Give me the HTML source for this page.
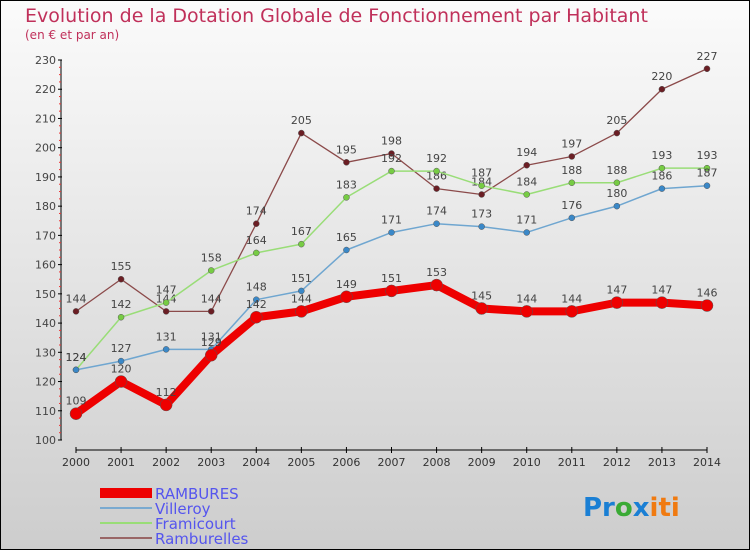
<!DOCTYPE html>
<html><head><meta charset="utf-8"><style>
body{margin:0}
#c{width:750px;height:550px;position:relative;overflow:hidden}
svg{display:block}
text{font-family:"DejaVu Sans","Liberation Sans",sans-serif}
</style></head><body>
<div id="c">
<svg id="s" width="750" height="550" xmlns="http://www.w3.org/2000/svg">
<defs><linearGradient id="bg" x1="0" y1="0" x2="0" y2="1"><stop offset="0" stop-color="#fbfbfb"/><stop offset="1" stop-color="#cdcdcd"/></linearGradient></defs>
<rect x="0.5" y="0.5" width="749" height="549" fill="url(#bg)" stroke="#000"/>
<text x="25" y="22" font-size="19" fill="#c0305a">Evolution de la Dotation Globale de Fonctionnement par Habitant</text>
<text x="25" y="39" font-size="12" fill="#c0305a">(en € et par an)</text>
<g id="axes"></g><g id="series"></g>
<g>
<rect x="100" y="488" width="52" height="10" fill="#e00"/>
<text x="155" y="499" font-size="15" fill="#5555ee">RAMBURES</text>
<line x1="100" y1="508" x2="152" y2="508" stroke="#7aaad0" stroke-width="2"/>
<text x="155" y="514" font-size="15" fill="#5555ee">Villeroy</text>
<line x1="100" y1="523" x2="152" y2="523" stroke="#99dd77" stroke-width="2"/>
<text x="155" y="529" font-size="15" fill="#5555ee">Framicourt</text>
<line x1="100" y1="538" x2="152" y2="538" stroke="#996666" stroke-width="2"/>
<text x="155" y="544" font-size="15" fill="#5555ee">Ramburelles</text>
</g>
<text x="583" y="516" font-size="26" font-weight="bold"><tspan fill="#1a7fd4">Pr</tspan><tspan fill="#3aaa35">o</tspan><tspan fill="#1a7fd4">x</tspan><tspan fill="#f07a10">iti</tspan></text>
</svg></div>
<script>
const years=[2000,2001,2002,2003,2004,2005,2006,2007,2008,2009,2010,2011,2012,2013,2014];
const yTicks=[100,110,120,130,140,150,160,170,180,190,200,210,220,230];
const rambures=[109,120,112,129,142,144,149,151,153,145,144,144,147,147,146];
const villeroy=[124,127,131,131,148,151,165,171,174,173,171,176,180,186,187];
const framicourt=[124,142,147,158,164,167,183,192,192,187,184,188,188,193,193];
const ramburelles=[144,155,144,144,174,205,195,198,186,184,194,197,205,220,227];
const NS="http://www.w3.org/2000/svg";
const X=i=>76+i*(707-76)/(years.length-1);
const Y=v=>440-(v-100)*380/130;
function mk(t,a,p){const e=document.createElementNS(NS,t);for(const k in a)e.setAttribute(k,a[k]);p.appendChild(e);return e;}
const ax=document.getElementById('axes');
let e=mk('line',{x1:61,y1:60,x2:61,y2:440,stroke:'#000'},ax);


e=mk('line',{x1:76,y1:450,x2:707,y2:450,stroke:'#000'},ax);


yTicks.forEach((v,i)=>{const y=Y(v);
 mk('line',{x1:58,y1:y,x2:62,y2:y,stroke:'#000'},ax);
 const t=mk('text',{x:56,y:y+4,'font-size':11,fill:'#444','text-anchor':'end'},ax);t.textContent=v;
 
 
 if(i<yTicks.length-1){for(let k=1;k<4;k++){const yy=Y(v+k*2.5);mk('line',{x1:59,y1:yy,x2:61,y2:yy,stroke:'#e33'},ax);}}
});
years.forEach((yr,i)=>{const x=X(i);
 mk('line',{x1:x,y1:447,x2:x,y2:453,stroke:'#000'},ax);
 const t=mk('text',{x:x,y:466,'font-size':11,fill:'#333','text-anchor':'middle'},ax);t.textContent=yr;
 
 
});
const sg=document.getElementById('series');
function series(name,vals,col,w,r,dot,lbl){
 const g=mk('g',{},sg);
 
 
 const p=mk('polyline',{points:vals.map((v,i)=>X(i)+','+Y(v)).join(' '),fill:'none',stroke:col,'stroke-width':w,'stroke-linejoin':'round'},g);
 
 
 vals.forEach((v,i)=>{
  const c=mk('circle',{cx:X(i),cy:Y(v),r:r,fill:dot,stroke:'#555','stroke-width':0.5},g);
  
  
  const t=mk('text',{x:X(i),y:Y(v)-9,'font-size':11,fill:'#444','text-anchor':'middle'},g);t.textContent=v;
  
  
 });
}
series('ramburelles',ramburelles,'#8b4a4a',1.3,3,'#6b1e24');
series('framicourt',framicourt,'#99dd77',1.5,3,'#77cc44');
series('villeroy',villeroy,'#6fa6d0',1.5,3,'#3a88c8');
series('rambures',rambures,'#e00',8,6,'#e00');
</script>
</body></html>
